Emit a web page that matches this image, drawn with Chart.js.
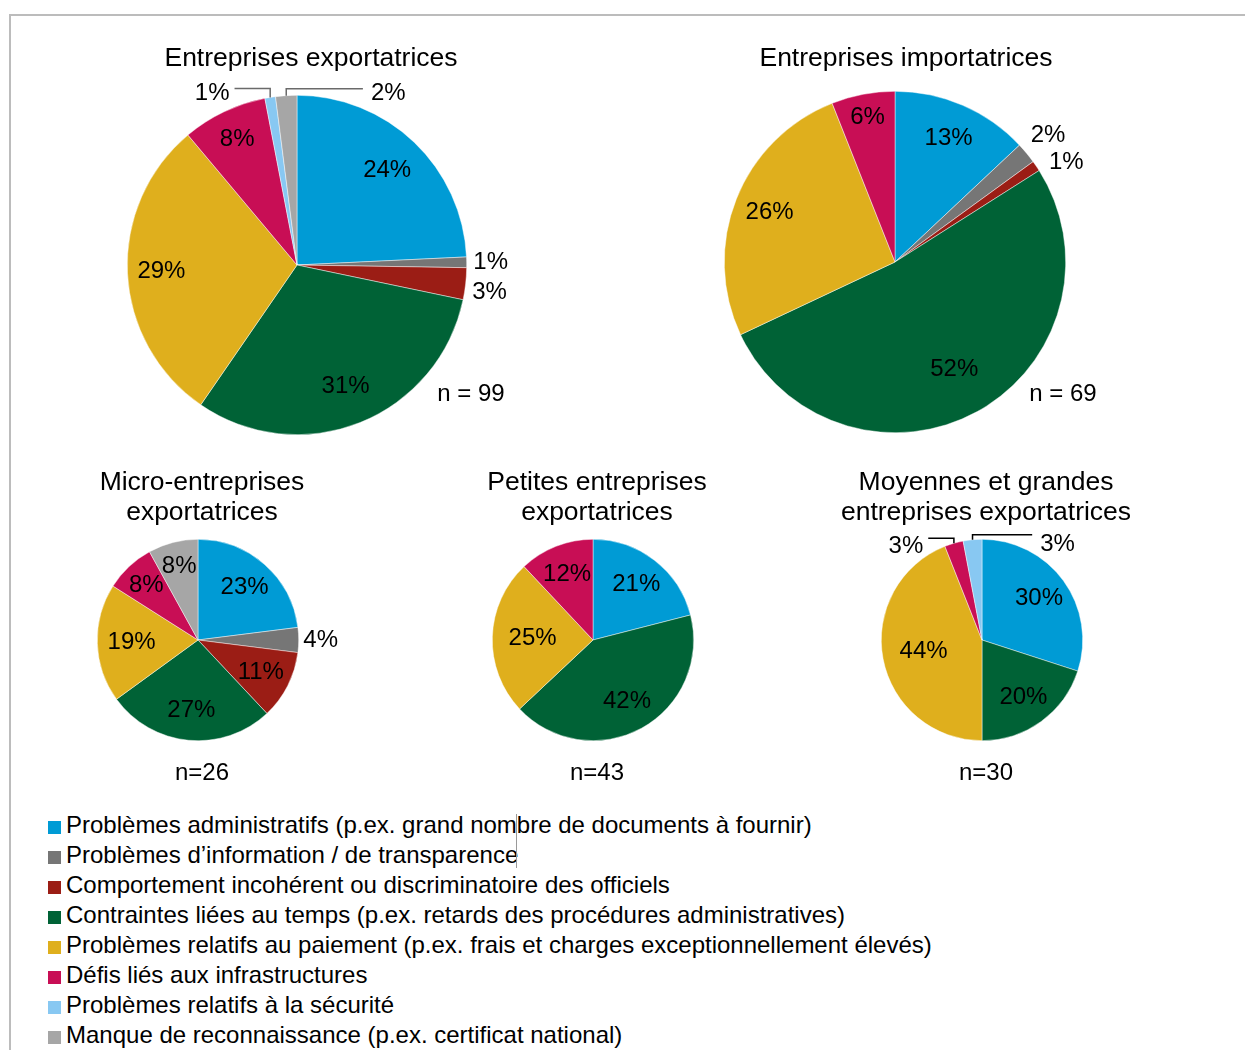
<!DOCTYPE html>
<html>
<head>
<meta charset="utf-8">
<script src="https://cdn.jsdelivr.net/npm/chart.js@4.4.0/dist/chart.umd.min.js"></script>
<style>
  body { margin: 0; background: #fff; font-family: "Liberation Sans", Arial, sans-serif; }
  #page { position: relative; width: 1245px; height: 1050px; overflow: hidden; }
  #frame { position: absolute; left: 9px; top: 14px; width: 1300px; height: 1100px;
           border-left: 2px solid #bcbcbc; border-top: 2px solid #bcbcbc; }
  .box { position: absolute; }
  .txt { position: absolute; white-space: nowrap; color: #000; transform: translate(-50%, -50%);
         line-height: 1; text-align: center; }
  .title { font-size: 26.5px; line-height: 30px; }
  .legend { position: absolute; left: 48px; top: 810px; font-size: 24px; }
  .legend div { height: 30px; line-height: 30px; white-space: nowrap; }
  .legend span { display: inline-block; width: 13px; height: 13px; margin-right: 5px; vertical-align: -1px; }
</style>
</head>
<body>
<div id="page">
  <div id="frame"></div>
</div>
<script>
// catégories et couleurs
const categories = [
  'Problèmes administratifs (p.ex. grand nombre de documents à fournir)',
  'Problèmes d\u2019information / de transparence',
  'Comportement incohérent ou discriminatoire des officiels',
  'Contraintes liées au temps (p.ex. retards des procédures administratives)',
  'Problèmes relatifs au paiement (p.ex. frais et charges exceptionnellement élevés)',
  'Défis liés aux infrastructures',
  'Problèmes relatifs à la sécurité',
  'Manque de reconnaissance (p.ex. certificat national)'
];
const colors = ['#009BD5', '#767676', '#9B1D15', '#006236', '#DFAF1D', '#C80E55', '#88C8F2', '#A6A6A6'];

// valeurs (%)
const exportValues = [24, 1, 3, 31, 29, 8, 1, 2];
const importValues = [13, 2, 1, 52, 26, 6, 0, 0];
const microValues = [23, 4, 11, 27, 19, 8, 0, 8];
const petitesValues = [21, 0, 0, 42, 25, 12, 0, 0];
const moyennesValues = [30, 0, 0, 20, 44, 3, 3, 0];

const chartTitles = [
  ['Entreprises exportatrices'],
  ['Entreprises importatrices'],
  ['Micro-entreprises', 'exportatrices'],
  ['Petites entreprises', 'exportatrices'],
  ['Moyennes et grandes', 'entreprises exportatrices']
];
const sampleSizes = ['n = 99', 'n = 69', 'n=26', 'n=43', 'n=30'];

const page = document.getElementById('page');

// étiquettes des secteurs (dedans, dehors, ou avec trait de rappel)
const sliceLabels = {
  id: 'sliceLabels',
  afterDatasetsDraw(chart, args, opts) {
    const ctx = chart.ctx;
    const meta = chart.getDatasetMeta(0);
    const values = chart.data.datasets[0].data;
    ctx.save();
    ctx.font = '24px "Liberation Sans", Arial, sans-serif';
    ctx.fillStyle = '#000';
    ctx.textAlign = 'center';
    ctx.textBaseline = 'middle';
    meta.data.forEach((arc, i) => {
      const v = values[i];
      if (!v) return;
      const p = arc.getProps(['x', 'y', 'startAngle', 'endAngle', 'outerRadius'], true);
      const mid = (p.startAngle + p.endAngle) / 2;
      const text = v + '%';
      const o = (opts.outside || {})[i];
      let lx, ly;
      if (!o) {
        const f = (opts.insideAt || {})[i] || opts.inside;
        const d = p.outerRadius * f;
        lx = p.x + Math.cos(mid) * d;
        ly = p.y + Math.sin(mid) * d;
      } else if (o.leader) {
        const ex = p.x + Math.cos(mid) * p.outerRadius;
        const ey = p.y + Math.sin(mid) * p.outerRadius;
        lx = ex + o.dx;
        ly = ey + o.dy;
        const lineY = ly + o.ly;
        const w = ctx.measureText(text).width;
        const endX = o.dx < 0 ? lx + w / 2 + 5 : lx - w / 2 - 8;
        ctx.beginPath();
        ctx.moveTo(ex, ey);
        ctx.lineTo(ex, lineY);
        ctx.lineTo(endX, lineY);
        ctx.strokeStyle = opts.leaderColor || '#000';
        ctx.lineWidth = 1.5;
        ctx.stroke();
      } else {
        const d = p.outerRadius + o.dist;
        lx = p.x + Math.cos(mid) * d + (o.dx || 0);
        ly = p.y + Math.sin(mid) * d + (o.dy || 0);
      }
      ctx.fillText(text, lx, ly);
    });
    ctx.restore();
  }
};

function addText(str, x, y, cls, size) {
  const el = document.createElement('div');
  el.className = 'txt ' + (cls || '');
  if (size) el.style.fontSize = size + 'px';
  el.style.left = x + 'px';
  el.style.top = y + 'px';
  el.innerHTML = str;
  page.appendChild(el);
}

function makePie(values, cx, cy, radius, pad, labelOpts) {
  const size = 2 * (radius + pad);
  const box = document.createElement('div');
  box.className = 'box';
  box.style.left = (cx - size / 2) + 'px';
  box.style.top = (cy - size / 2) + 'px';
  const canvas = document.createElement('canvas');
  canvas.width = size;
  canvas.height = size;
  box.appendChild(canvas);
  page.appendChild(box);
  return new Chart(canvas, {
    type: 'pie',
    data: {
      labels: categories,
      datasets: [{
        data: values,
        backgroundColor: colors,
        borderColor: 'rgba(255,255,255,0.75)',
        borderWidth: 0.6
      }]
    },
    options: {
      responsive: false,
      animation: false,
      layout: { padding: pad },
      plugins: {
        legend: { display: false },
        tooltip: { enabled: false },
        sliceLabels: labelOpts
      }
    },
    plugins: [sliceLabels]
  });
}

makePie(exportValues, 297, 265, 170, 60, {
  inside: 0.77, insideAt: { 4: 0.8, 5: 0.82 }, leaderColor: '#6a6a6a',
  outside: {
    1: { dist: 24 },
    2: { dist: 24, dy: 6 },
    6: { leader: true, dx: -58, dy: -4, ly: -5 },
    7: { leader: true, dx: 102, dy: -2, ly: -5 }
  }
});
makePie(importValues, 895, 262, 171, 60, {
  inside: 0.79, insideAt: { 3: 0.72, 5: 0.86 },
  outside: {
    1: { dist: 28 },
    2: { dist: 28, dx: 7, dy: 12 }
  }
});
makePie(microValues, 198, 640, 101, 50, {
  inside: 0.7, insideAt: { 4: 0.66, 5: 0.75, 7: 0.75 },
  outside: { 1: { dist: 22 } }
});
makePie(petitesValues, 593, 640, 101, 50, { inside: 0.7, insideAt: { 4: 0.6 } });
makePie(moyennesValues, 982, 640, 101, 50, {
  inside: 0.7, insideAt: { 4: 0.59 }, leaderColor: '#000',
  outside: {
    5: { leader: true, dx: -48, dy: 3, ly: -8 },
    6: { leader: true, dx: 85, dy: 5, ly: -10 }
  }
});

// titres
const titlePos = [[311, 57], [906, 57], [202, 496], [597, 496], [986, 496]];
chartTitles.forEach((lines, i) => {
  addText(lines.join('<br>'), titlePos[i][0], titlePos[i][1], 'title');
});

// effectifs
const nPos = [[471, 393], [1063, 393], [202, 772], [597, 772], [986, 772]];
sampleSizes.forEach((s, i) => addText(s, nPos[i][0], nPos[i][1], '', 24));

// légende
const legend = document.createElement('div');
legend.className = 'legend';
categories.forEach((c, i) => {
  const row = document.createElement('div');
  row.innerHTML = '<span style="background:' + colors[i] + '"></span>' + c;
  legend.appendChild(row);
});
page.appendChild(legend);

// petit trait vertical parasite
const stray = document.createElement('div');
stray.style.cssText = 'position:absolute;left:516px;top:814px;width:1px;height:54px;background:#9a9a9a;';
page.appendChild(stray);
</script>
</body>
</html>
